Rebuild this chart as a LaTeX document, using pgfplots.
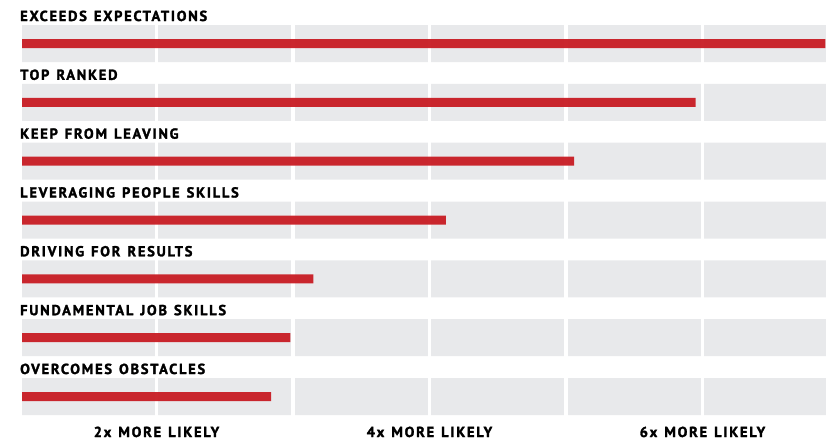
\documentclass[border=0pt]{standalone}
\usepackage{fontspec}
\setmainfont{PT Sans}
\newfontfamily\lblfont[LetterSpace=12,FakeBold=1.8,WordSpace=1.3]{PT Sans Bold}
\usepackage{pgfplots}
\pgfplotsset{compat=1.18}
\definecolor{barred}{RGB}{200,31,38}
\definecolor{bandgrey}{RGB}{232,233,235}
\begin{document}
\begin{tikzpicture}
\begin{axis}[
  at={(0pt,0pt)}, anchor=south west,
  scale only axis,
  width=804pt, height=390pt,
  xmin=1.0146, xmax=6.905,
  ymin=-0.3146, ymax=6.3146,
  y dir=reverse,
  axis on top,
  axis line style={draw=none},
  major tick length=0pt,
  xtick={2,4,6},
  xticklabels={2x MORE LIKELY,4x MORE LIKELY,6x MORE LIKELY},
  xticklabel style={font=\lblfont\fontsize{14.5}{15}\selectfont, anchor=base, inner sep=0pt, yshift=-22pt},
  ytick={0,1,2,3,4,5,6},
  yticklabels={EXCEEDS EXPECTATIONS,TOP RANKED,KEEP FROM LEAVING,LEVERAGING PEOPLE SKILLS,DRIVING FOR RESULTS,FUNDAMENTAL JOB SKILLS,OVERCOMES OBSTACLES},
  yticklabel style={font=\lblfont\fontsize{14.5}{15}\selectfont, anchor=base west, inner sep=0pt, xshift=-2pt, yshift=22.5pt},
]
\addplot[xbar, bar width=37pt, fill=bandgrey, draw=none, bar shift=0pt] coordinates {
(7,0) (7,1) (7,2) (7,3) (7,4) (7,5) (7,6)};
\addplot[white, line width=3.5pt] coordinates {(2,-0.5) (2,6.5)};
\addplot[white, line width=3.5pt] coordinates {(3,-0.5) (3,6.5)};
\addplot[white, line width=3.5pt] coordinates {(4,-0.5) (4,6.5)};
\addplot[white, line width=3.5pt] coordinates {(5,-0.5) (5,6.5)};
\addplot[white, line width=3.5pt] coordinates {(6,-0.5) (6,6.5)};
\addplot[xbar, bar width=9pt, fill=barred, draw=none, fill opacity=0.96, bar shift=0pt] coordinates {
(6.90,0) (5.95,1) (5.06,2) (4.12,3) (3.15,4) (2.98,5) (2.84,6)};
\end{axis}
\pgfresetboundingbox
\path[use as bounding box] (-22pt,-25pt) rectangle (804pt,415pt);
\end{tikzpicture}
\end{document}
